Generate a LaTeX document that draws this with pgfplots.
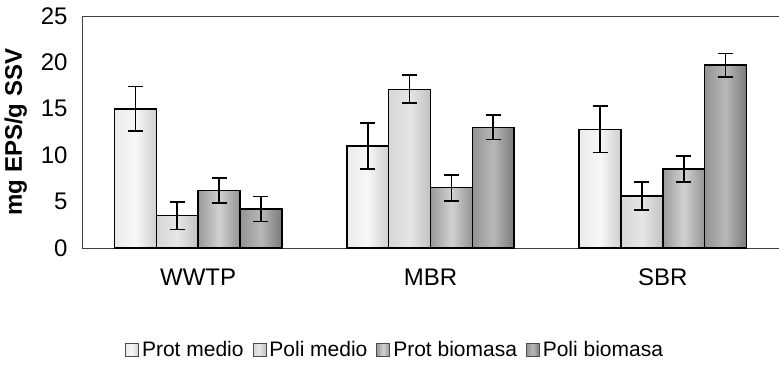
\documentclass[border=0pt]{standalone}
\usepackage{pgfplots}
\pgfplotsset{compat=1.18}
\usepackage{fontspec}
\setmainfont{Liberation Sans}
\pgfplotsset{
  sA/.style={left color=black!8, right color=black!19, middle color=black!3, bar shift=-0.27},
  sB/.style={left color=black!16, right color=black!24, middle color=black!10, bar shift=-0.09},
  sC/.style={left color=black!40, right color=black!42, middle color=black!18, bar shift=0.09},
  sD/.style={left color=black!42, right color=black!52, middle color=black!28, bar shift=0.27},
}
\begin{document}
\begin{tikzpicture}
\begin{axis}[
  scale only axis,
  width=697bp, height=232bp,
  xmin=-0.5, xmax=2.5,
  ymin=0, ymax=25,
  ytick={0,5,10,15,20,25},
  xtick={0,1,2},
  xticklabels={WWTP,MBR,SBR},
  major tick length=0pt,
  axis line style={black!75, line width=0.9bp},
  /pgf/number format/assume math mode=true,
  yticklabel style={font=\fontsize{24bp}{28bp}\selectfont, xshift=-11bp},
  xticklabel style={font=\fontsize{24bp}{28bp}\selectfont, yshift=-17bp},
  ylabel={\textbf{mg EPS/g SSV}},
  ylabel style={at={(axis description cs:-0.095,0.5)}, anchor=center, font=\fontsize{24bp}{28bp}\selectfont},
  ybar=0pt,
  bar width=0.18,
  legend columns=4,
  legend style={at={(0.45,-0.44)}, anchor=center, draw=none, fill=none,
    font=\fontsize{21bp}{25bp}\selectfont,
    /tikz/every even column/.append style={column sep=6bp},
    nodes={inner xsep=3bp}},
  legend image code/.code={\draw[#1, draw=black!70, line width=0.8bp] (0bp,-6.5bp) rectangle (13bp,6.5bp);},
  every axis plot/.append style={draw=black, line width=1.4bp},
  error bars/y dir=both,
  error bars/y explicit,
  error bars/error bar style={line width=1.8bp, black},
  error bars/error mark options={line width=1.8bp, black, mark size=7.5bp, rotate=90},
]
% WWTP (with legend entries)
\addplot[sA] coordinates {(0,15.0) +- (0,2.4)};
\addlegendentry{Prot medio}
\addplot[sB] coordinates {(0,3.5) +- (0,1.5)};
\addlegendentry{Poli medio}
\addplot[sC] coordinates {(0,6.2) +- (0,1.35)};
\addlegendentry{Prot biomasa}
\addplot[sD] coordinates {(0,4.2) +- (0,1.35)};
\addlegendentry{Poli biomasa}
% MBR
\addplot[sA, forget plot] coordinates {(1,11.0) +- (0,2.5)};
\addplot[sB, forget plot] coordinates {(1,17.1) +- (0,1.5)};
\addplot[sC, forget plot] coordinates {(1,6.5) +- (0,1.4)};
\addplot[sD, forget plot] coordinates {(1,13.0) +- (0,1.3)};
% SBR
\addplot[sA, forget plot] coordinates {(2,12.8) +- (0,2.5)};
\addplot[sB, forget plot] coordinates {(2,5.6) +- (0,1.5)};
\addplot[sC, forget plot] coordinates {(2,8.5) +- (0,1.4)};
\addplot[sD, forget plot] coordinates {(2,19.7) +- (0,1.25)};
\end{axis}
\pgfresetboundingbox
\path ([xshift=-82bp, yshift=-119bp]current axis.south west) rectangle ([yshift=16bp]current axis.north east);
\end{tikzpicture}
\end{document}
